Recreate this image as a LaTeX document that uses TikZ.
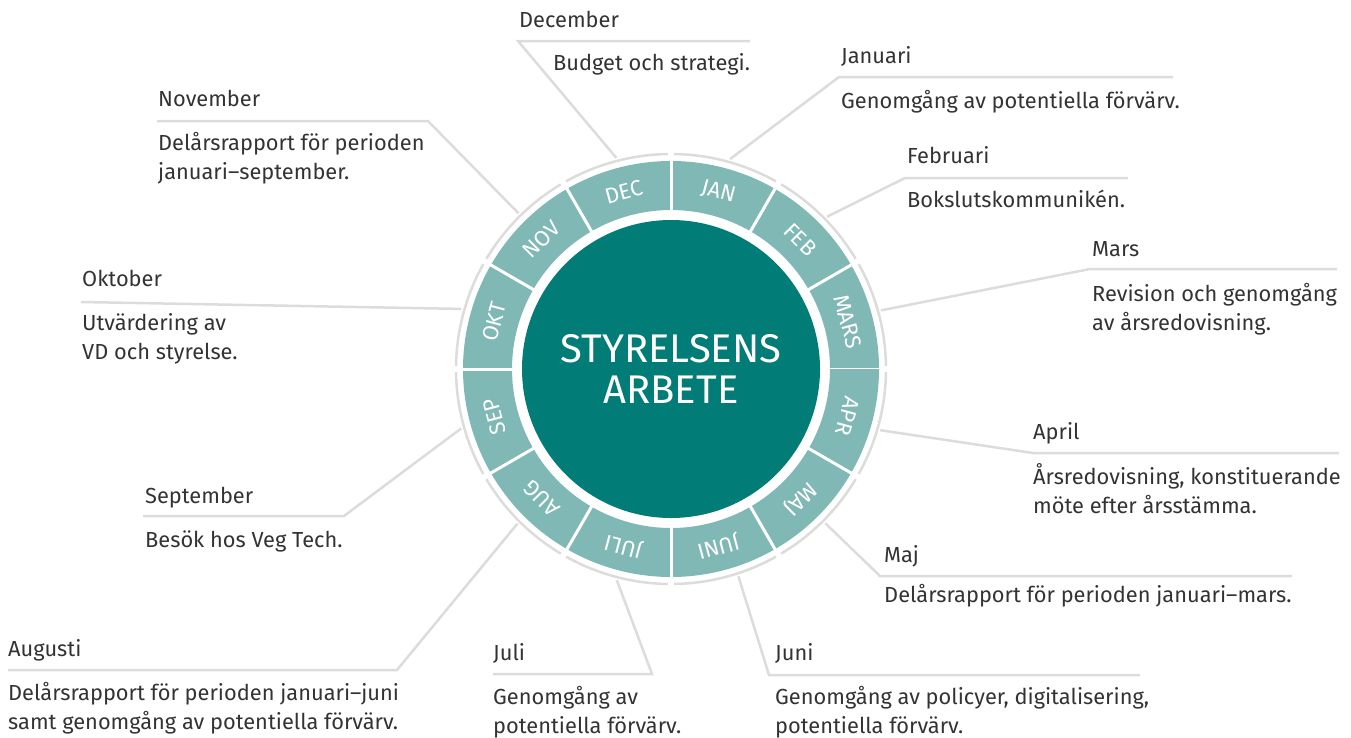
\documentclass[tikz,border=0pt]{standalone}
\usepackage{fontspec}
\setmainfont{Fira Sans}
\usetikzlibrary{positioning}

\definecolor{morkgron}{HTML}{017C76}
\definecolor{ljusgron}{HTML}{7FB8B5}
\definecolor{linjegra}{HTML}{DCDCDC}
\definecolor{textgra}{HTML}{333333}

\begin{document}
\begin{tikzpicture}[
        x=1pt, y=1pt,
        linje/.style={draw=linjegra, line width=2.5pt},
        rubrik/.style={anchor=base west, inner sep=0pt, text=textgra, font=\fontsize{21.8}{29}\selectfont},
        beskrivning/.style={rubrik, align=left},
        manad/.style={text=white, inner sep=0pt, font=\fontsize{22}{22}\selectfont}
    ]

    \useasboundingbox (0,0) rectangle (1351,-737);

    % Mitten
    \fill[morkgron] (671,-369) circle[radius=149];
    \node[text=white, align=center, inner sep=0pt, font=\fontsize{40}{41}\selectfont] (mitt) at (671,-369) {STYRELSENS\\ARBETE};

    % Ringen med månaderna
    \begin{scope}[shift={(671,-369)}]
        \foreach \a in {0,30,...,330} {
            \fill[ljusgron] (\a:159) arc[start angle=\a, end angle=\a+30, radius=159]
                -- (\a+30:208) arc[start angle=\a+30, end angle=\a, radius=208] -- cycle;
            \draw[white, line width=3pt] (\a:155) -- (\a:212);
            \draw[linjegra, line width=2.5pt] (\a+0.8:215) arc[start angle=\a+0.8, end angle=\a+29.2, radius=215];
        }
        \foreach \namn [count=\i, evaluate=\i as \v using 105-30*\i] in {JAN,FEB,MARS,APR,MAJ,JUNI,JULI,AUG,SEP,OKT,NOV,DEC}
            \node[manad, rotate=\v-90] (m-\namn) at (\v:183) {\namn};

        % Ändpunkter på ringen
        \coordinate (dec-r) at (104.5:218);
        \coordinate (jan-r) at (74.3:218);
        \coordinate (feb-r) at (44.3:218);
        \coordinate (mar-r) at (15.6:218);
        \coordinate (apr-r) at (-16.3:218);
        \coordinate (maj-r) at (-45:218);
        \coordinate (jun-r) at (-72:218);
        \coordinate (jul-r) at (-104.4:218);
        \coordinate (aug-r) at (-134.8:218);
        \coordinate (sep-r) at (-164.2:218);
        \coordinate (okt-r) at (164:218);
        \coordinate (nov-r) at (134.4:218);
    \end{scope}

    % December
    \coordinate (dec-a) at (518,-41);
    \coordinate (dec-b) at (750,-41);
    \draw[linje] (dec-r) -- (dec-a) -- (dec-b);
    \node[rubrik] (dec-rubrik) at (519,-27) {December};
    \node[beskrivning] (dec-text) at (553,-70) {Budget och strategi.};

    % Januari
    \coordinate (jan-a) at (839,-77);
    \coordinate (jan-b) at (1173,-77);
    \draw[linje] (jan-r) -- (jan-a) -- (jan-b);
    \node[rubrik] (jan-rubrik) at (841,-63) {Januari};
    \node[beskrivning] (jan-text) at (841,-108) {Genomgång av potentiella förvärv.};

    % Februari
    \coordinate (feb-a) at (905,-178);
    \coordinate (feb-b) at (1128,-178);
    \draw[linje] (feb-r) -- (feb-a) -- (feb-b);
    \node[rubrik] (feb-rubrik) at (907,-163) {Februari};
    \node[beskrivning] (feb-text) at (907,-207) {Bokslutskommunikén.};

    % Mars
    \coordinate (mar-a) at (1090,-269);
    \coordinate (mar-b) at (1337,-269);
    \draw[linje] (mar-r) -- (mar-a) -- (mar-b);
    \node[rubrik] (mar-rubrik) at (1092,-256) {Mars};
    \node[beskrivning] (mar-text) at (1092,-330) {Revision och genomgång\\av årsredovisning.};

    % April
    \coordinate (apr-a) at (1033,-453);
    \coordinate (apr-b) at (1339,-453);
    \draw[linje] (apr-r) -- (apr-a) -- (apr-b);
    \node[rubrik] (apr-rubrik) at (1033,-439) {April};
    \node[beskrivning] (apr-text) at (1033,-513) {Årsredovisning, konstituerande\\möte efter årsstämma.};

    % Maj
    \coordinate (maj-a) at (880,-576);
    \coordinate (maj-b) at (1292,-576);
    \draw[linje] (maj-r) -- (maj-a) -- (maj-b);
    \node[rubrik] (maj-rubrik) at (884,-562) {Maj};
    \node[beskrivning] (maj-text) at (884,-602) {Delårsrapport för perioden januari–mars.};

    % Juni
    \coordinate (jun-a) at (769,-675);
    \coordinate (jun-b) at (1140,-675);
    \draw[linje] (jun-r) -- (jun-a) -- (jun-b);
    \node[rubrik] (jun-rubrik) at (775,-660) {Juni};
    \node[beskrivning] (jun-text) at (775,-733) {Genomgång av policyer, digitalisering,\\potentiella förvärv.};

    % Juli
    \coordinate (jul-a) at (652,-674);
    \coordinate (jul-b) at (493,-674);
    \draw[linje] (jul-r) -- (jul-a) -- (jul-b);
    \node[rubrik] (jul-rubrik) at (493,-660) {Juli};
    \node[beskrivning] (jul-text) at (493,-733) {Genomgång av\\potentiella förvärv.};

    % Augusti
    \coordinate (aug-a) at (397,-670);
    \coordinate (aug-b) at (8,-670);
    \draw[linje] (aug-r) -- (aug-a) -- (aug-b);
    \node[rubrik] (aug-rubrik) at (8,-656) {Augusti};
    \node[beskrivning] (aug-text) at (8,-729) {Delårsrapport för perioden januari–juni\\samt genomgång av potentiella förvärv.};

    % September
    \coordinate (sep-a) at (344,-516);
    \coordinate (sep-b) at (143,-516);
    \draw[linje] (sep-r) -- (sep-a) -- (sep-b);
    \node[rubrik] (sep-rubrik) at (145,-503) {September};
    \node[beskrivning] (sep-text) at (145,-547) {Besök hos Veg Tech.};

    % Oktober
    \coordinate (okt-a) at (81,-302);
    \draw[linje] (okt-r) -- (okt-a);
    \node[rubrik] (okt-rubrik) at (82,-286) {Oktober};
    \node[beskrivning] (okt-text) at (82,-359) {Utvärdering av\\VD och styrelse.};

    % November
    \coordinate (nov-a) at (428,-121);
    \coordinate (nov-b) at (157,-121);
    \draw[linje] (nov-r) -- (nov-a) -- (nov-b);
    \node[rubrik] (nov-rubrik) at (158,-106) {November};
    \node[beskrivning] (nov-text) at (158,-179) {Delårsrapport för perioden\\januari–september.};

\end{tikzpicture}
\end{document}
